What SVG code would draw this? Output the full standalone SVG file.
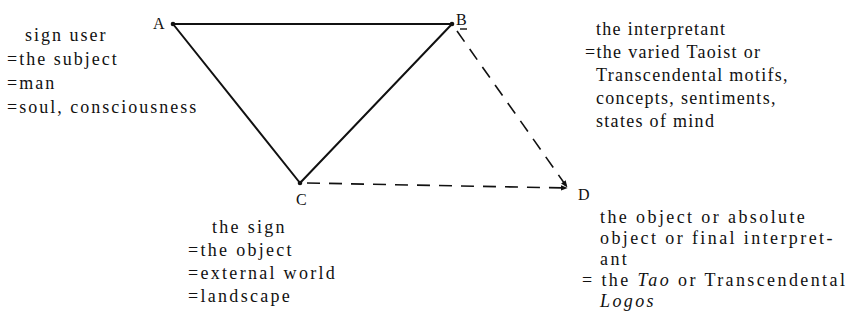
<svg xmlns="http://www.w3.org/2000/svg" width="848" height="330" viewBox="0 0 848 330">
<defs>
<marker id="ah" viewBox="0 0 10 10" refX="9" refY="5" markerWidth="7" markerHeight="7" markerUnits="userSpaceOnUse" orient="auto">
<path d="M0,1 L10,5 L0,9 z" fill="#111"/>
</marker>
</defs>
<style>
text{font-family:"Liberation Serif","Times New Roman",serif;font-size:18px;fill:#111}
.lbl{font-size:16px;letter-spacing:0}
.wide{letter-spacing:2px}
.sign{letter-spacing:2.3px}
.interp{letter-spacing:1.3px}
.obj{letter-spacing:2.4px}
.solid{stroke:#111;stroke-width:2;fill:none;stroke-linecap:round}
.dash{stroke:#111;stroke-width:1.6;fill:none;stroke-dasharray:13 9}
.tick{stroke:#111;stroke-width:1.4;fill:none}
.dot{fill:#111}
</style>
<rect width="848" height="330" fill="#fff"/>
<g id="connectors">
<line class="solid" x1="173" y1="24" x2="452" y2="24"/>
<line class="solid" x1="173" y1="24" x2="300" y2="183"/>
<line class="solid" x1="452" y1="24" x2="300" y2="183"/>
<line class="tick" x1="460" y1="29" x2="467" y2="29"/>
<line class="dash" x1="457" y1="31" x2="567" y2="187" marker-end="url(#ah)"/>
<line class="dash" x1="307" y1="183" x2="567" y2="188" marker-end="url(#ah)"/>
</g>
<g id="nodeA">
<circle class="dot" cx="173" cy="24" r="2.3"/>
<text class="lbl" x="153" y="29">A</text>
<text class="wide" x="25" y="41">sign user</text>
<text class="wide" x="7" y="65">=the subject</text>
<text class="wide" x="7" y="89">=man</text>
<text class="wide" x="7" y="113">=soul, consciousness</text>
</g>
<g id="nodeB">
<circle class="dot" cx="452" cy="24" r="2.3"/>
<text class="lbl" x="456" y="25">B</text>
<text class="interp" x="596" y="35">the interpretant</text>
<text class="interp" x="585" y="58">=the varied Taoist or</text>
<text class="interp" x="596" y="81">Transcendental motifs,</text>
<text class="interp" x="596" y="104">concepts, sentiments,</text>
<text class="interp" x="596" y="127">states of mind</text>
</g>
<g id="nodeC">
<circle class="dot" cx="300" cy="183" r="2.3"/>
<text class="lbl" x="296" y="205">C</text>
<text class="sign" x="212" y="233">the sign</text>
<text class="sign" x="188" y="256">=the object</text>
<text class="sign" x="188" y="279">=external world</text>
<text class="sign" x="188" y="302">=landscape</text>
</g>
<g id="nodeD">
<text class="lbl" x="578" y="200">D</text>
<text class="obj" x="600" y="223">the object or absolute</text>
<text class="obj" x="600" y="244">object or final interpret-</text>
<text class="obj" x="600" y="265">ant</text>
<text class="obj" x="582" y="286">= the <tspan font-style="italic">Tao</tspan> or Transcendental</text>
<text class="obj" x="600" y="307" font-style="italic">Logos</text>
</g>
</svg>
